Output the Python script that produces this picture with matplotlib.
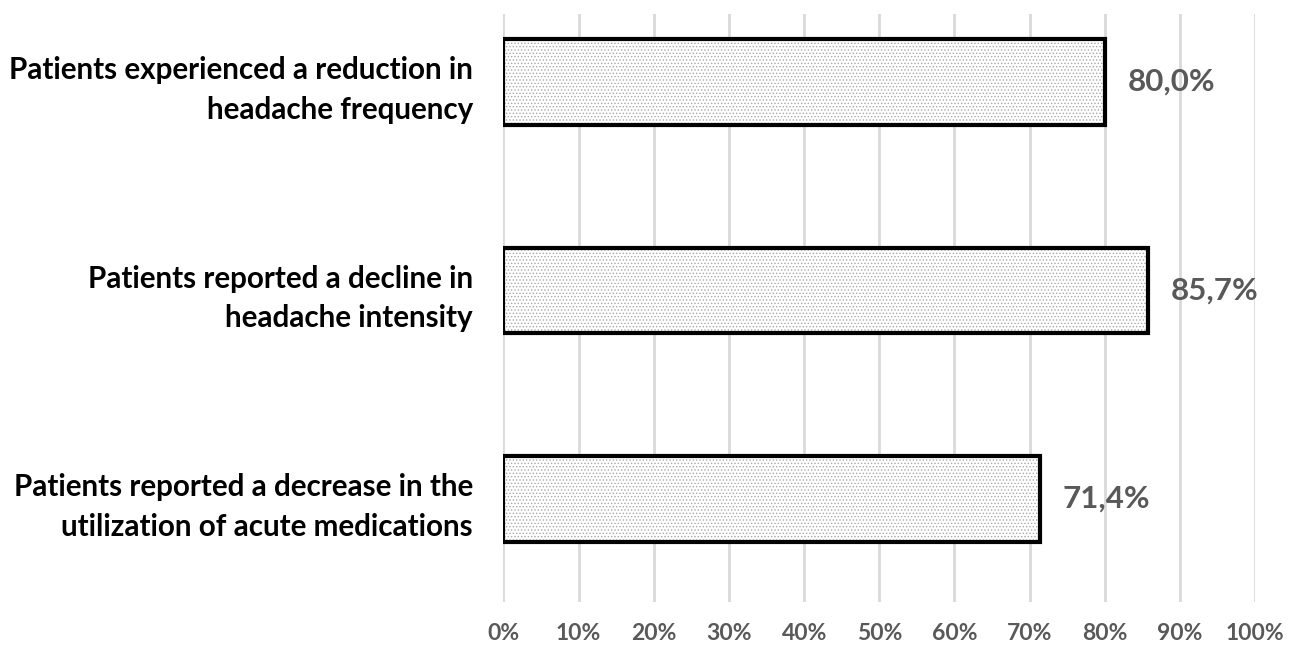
import matplotlib.pyplot as plt
import numpy as np

# data
categories = [
    "Patients experienced a reduction in\nheadache frequency",
    "Patients reported a decline in\nheadache intensity",
    "Patients reported a decrease in the\nutilization of acute medications",
]
values = [80.0, 85.7, 71.4]
value_labels = ["80,0%", "85,7%", "71,4%"]
ticks = list(range(0, 101, 10))
tick_labels = [f"{t}%" for t in ticks]

plt.rcParams['font.family'] = ['Lato', 'DejaVu Sans']
plt.rcParams['hatch.linewidth'] = 0.6

fig = plt.figure(figsize=(12.93, 6.53), dpi=100)
ax = fig.add_axes([0.3893, 0.0781, 0.5815, 0.9005])

y = np.arange(len(categories))
# dotted fill
ax.barh(y, values, height=0.41, color='white', edgecolor='#a8a8a8',
        hatch='.....', linewidth=0, zorder=2)
# thick black outline
ax.barh(y, values, height=0.41, fill=False, edgecolor='black',
        linewidth=3, zorder=3)

for yi, v, lab in zip(y, values, value_labels):
    ax.text(v + 3.0, yi, lab, va='center', ha='left', fontsize=22.5,
            fontweight='bold', color='#595959')

ax.set_xlim(0, 100)
ax.set_ylim(2.494, -0.326)
ax.set_xticks(ticks)
ax.set_xticklabels(tick_labels, fontsize=16.5, fontweight='bold', color='#595959')
ax.set_yticks(y)
ax.set_yticklabels(categories, fontsize=21.3, fontweight='bold', color='black',
                   linespacing=1.5, ha='right')
ax.tick_params(axis='both', length=0)
ax.tick_params(axis='x', pad=15)
ax.tick_params(axis='y', pad=22)
ax.grid(axis='x', color='#d9d9d9', linewidth=2)
ax.set_axisbelow(True)
for s in ax.spines.values():
    s.set_visible(False)

fig.savefig('out.png', dpi=100, facecolor='white')
